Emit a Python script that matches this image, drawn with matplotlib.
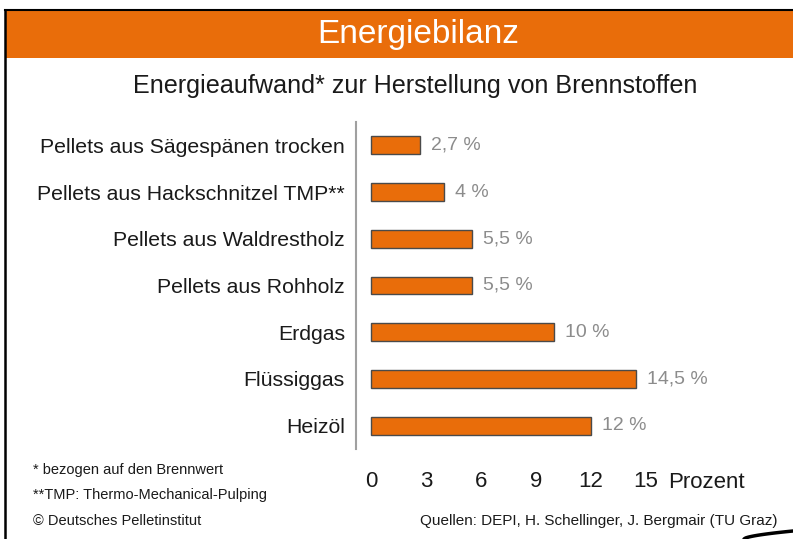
import matplotlib
matplotlib.use("Agg")
import matplotlib.pyplot as plt
from matplotlib.patches import Rectangle
from matplotlib.lines import Line2D
import numpy as np

plt.rcParams['font.family'] = ['Liberation Sans', 'DejaVu Sans']

categories = [
    "Pellets aus Sägespänen trocken",
    "Pellets aus Hackschnitzel TMP**",
    "Pellets aus Waldrestholz",
    "Pellets aus Rohholz",
    "Erdgas",
    "Flüssiggas",
    "Heizöl",
]
values = [2.7, 4.0, 5.5, 5.5, 10.0, 14.5, 12.0]
value_labels = ["2,7 %", "4 %", "5,5 %", "5,5 %", "10 %", "14,5 %", "12 %"]
xticks = [0, 3, 6, 9, 12, 15]
xtick_labels = ["0", "3", "6", "9", "12", "15"]

header = "Energiebilanz"
title = "Energieaufwand* zur Herstellung von Brennstoffen"
unit = "Prozent"
foot1 = "* bezogen auf den Brennwert"
foot2 = "**TMP: Thermo-Mechanical-Pulping"
foot3 = "© Deutsches Pelletinstitut"
source = "Quellen: DEPI, H. Schellinger, J. Bergmair (TU Graz)"

W, H = 793, 539
fig = plt.figure(figsize=(W / 100, H / 100), dpi=100)
fig.patch.set_facecolor("white")

def fx(px):
    return px / W

def fy(py):
    return 1 - py / H

orange = "#E96D0A"

# header band
fig.patches.append(Rectangle((fx(5), fy(58)), fx(793) - fx(5), fy(10) - fy(58),
                             transform=fig.transFigure, facecolor=orange,
                             edgecolor="none", zorder=0))
# border lines
fig.add_artist(Line2D([fx(5), fx(793)], [fy(10), fy(10)], color="black", lw=1.5,
                      transform=fig.transFigure))
fig.add_artist(Line2D([fx(5), fx(5)], [fy(10), fy(539)], color="black", lw=1.8,
                      transform=fig.transFigure))
# decorative swoosh bottom right
t = np.linspace(0, 1, 30)
sx = 744 + 49 * t
sy = 539 - 8 * t ** 0.6
fig.add_artist(Line2D(fx(sx), fy(sy), color="black", lw=2.5,
                      transform=fig.transFigure, solid_capstyle="round"))

fig.text(fx(418), fy(34), header, color="white", fontsize=24, ha="center", va="center")
fig.text(fx(415), fy(86), title, color="#1a1a1a", fontsize=18.1, ha="center", va="center")

# axes
ax_left, ax_right, ax_top, ax_bottom = 356, 760, 122, 449
ax = fig.add_axes([fx(ax_left), fy(ax_bottom), fx(ax_right) - fx(ax_left),
                   (ax_bottom - ax_top) / H])
scale = 18.3
x0px = 371
xmin = -(x0px - ax_left) / scale
xmax = (ax_right - x0px) / scale
ax.set_xlim(xmin, xmax)
ypos = list(range(len(categories)))
ax.set_ylim(len(categories) - 0.5, -0.5)

ax.barh(ypos, values, height=0.385, color=orange, edgecolor="#4a4a4a", linewidth=1.0)

for y, v, lab in zip(ypos, values, value_labels):
    ax.text(v + 11 / scale, y, lab, color="#8c8c8c", fontsize=14, ha="left", va="center")

ax.set_yticks(ypos)
ax.set_yticklabels(categories, fontsize=15.3, color="#1a1a1a")
ax.tick_params(axis="y", length=0, pad=8)
ax.set_xticks(xticks)
ax.set_xticklabels(xtick_labels, fontsize=16, color="#1a1a1a")
ax.tick_params(axis="x", length=0, pad=16)

for s in ["top", "right", "bottom"]:
    ax.spines[s].set_visible(False)
ax.spines["left"].set_color("#a0a0a0")
ax.spines["left"].set_linewidth(1.5)
ax.set_facecolor("none")

fig.text(fx(668), fy(482), unit, fontsize=16, color="#1a1a1a", ha="left", va="center")

fs_foot = 10.5
fig.text(fx(33), fy(470), foot1, fontsize=fs_foot, color="#1a1a1a", ha="left", va="center")
fig.text(fx(33), fy(495), foot2, fontsize=fs_foot, color="#1a1a1a", ha="left", va="center")
fig.text(fx(33), fy(521), foot3, fontsize=fs_foot, color="#1a1a1a", ha="left", va="center")
fig.text(fx(777), fy(521), source, fontsize=11, color="#1a1a1a", ha="right", va="center")

fig.savefig("out.png", dpi=100)
